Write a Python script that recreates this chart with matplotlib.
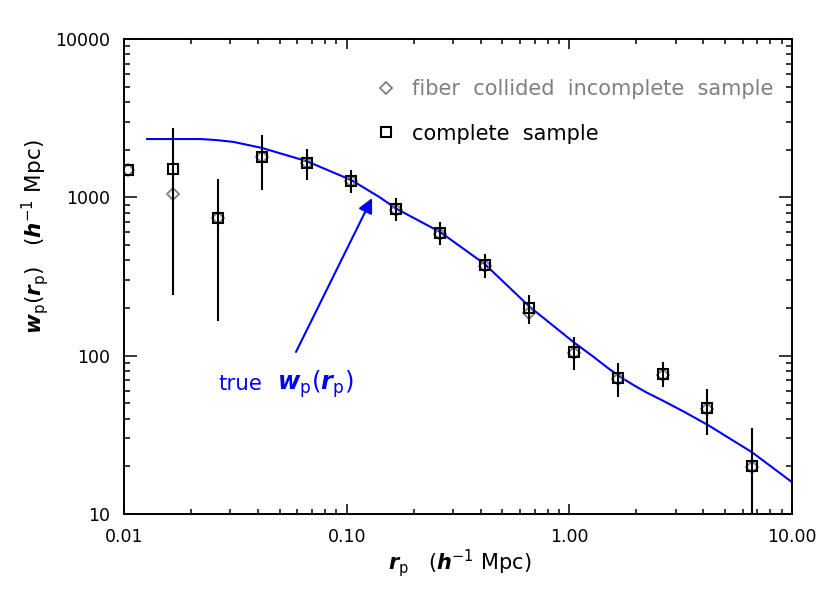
import matplotlib
matplotlib.use("Agg")
import matplotlib.pyplot as plt
from matplotlib.ticker import FuncFormatter, LogLocator
import numpy as np

# projected separation bins (h^-1 Mpc)
rp = [0.01047, 0.0166, 0.0263, 0.0417, 0.0661, 0.1047, 0.166, 0.263,
      0.417, 0.661, 1.047, 1.66, 2.63, 4.17, 6.61]

# complete sample and its error range
wp_complete = [1490, 1510, 741, 1800, 1650, 1270, 844, 595, 374, 200, 105, 72, 76.5, 46.7, 20.1]
wp_low = [1490, 241, 166, 1111, 1285, 1065, 708, 500, 309, 158, 81, 54.8, 63.4, 31.5, 5]
wp_high = [1490, 2740, 1306, 2477, 2018, 1489, 991, 698, 438, 241, 131, 90, 91, 61.5, 34.9]

# fiber collided incomplete sample
wp_fiber = [1480, 1050, 740, 1800, 1650, 1260, 835, 588, 370, 186, 104, 71, 75.5, 46, 19.8]

# true w_p(r_p) curve
true_rp = [0.0127, 0.022, 0.026, 0.031, 0.0417, 0.066, 0.105, 0.141, 0.166, 0.263, 0.417,
           0.665, 1.059, 1.276, 1.5, 1.72, 1.95, 2.2, 2.63, 3.3, 4.19, 6.6, 10.0]
true_wp = [2335, 2335, 2300, 2240, 2050, 1694, 1285, 1000, 852, 604, 379,
           203, 120, 99, 83, 72.5, 65, 59, 52, 44, 36.5, 24.6, 15.9]

plt.rcParams['font.family'] = 'DejaVu Sans'
plt.rcParams['mathtext.fontset'] = 'dejavusans'

fig = plt.figure(figsize=(8.3, 5.93), dpi=100)
ax = fig.add_axes([0.1494, 0.1332, 0.8048, 0.801])

ax.plot(true_rp, true_wp, color='blue', lw=1.5, zorder=2)

rp_a = np.array(rp)
wc = np.array(wp_complete)
yerr = [wc - np.array(wp_low), np.array(wp_high) - wc]
ax.errorbar(rp_a, wc, yerr=yerr, fmt='none', ecolor='black', elinewidth=1.5, capsize=0, zorder=3)

ax.plot(rp, wp_fiber, linestyle='none', marker='D', ms=6, mfc='none', mec='gray', mew=1.3,
        zorder=2.5, label='fiber  collided  incomplete  sample')
ax.plot(rp, wp_complete, linestyle='none', marker='s', ms=6.5, mfc='none', mec='black', mew=1.5,
        zorder=4, label='complete  sample')

ax.set_xscale('log')
ax.set_yscale('log')
ax.set_xlim(0.01, 10)
ax.set_ylim(10, 10000)

ax.xaxis.set_major_formatter(FuncFormatter(lambda v, _: f"{v:.2f}"))
ax.yaxis.set_major_formatter(FuncFormatter(lambda v, _: f"{v:.0f}"))
ax.xaxis.set_minor_locator(LogLocator(base=10, subs=np.arange(2, 10)))
ax.yaxis.set_minor_locator(LogLocator(base=10, subs=np.arange(2, 10)))

ax.tick_params(which='both', direction='in', top=True, right=True, width=1.1, labelsize=12.5)
ax.tick_params(axis='x', which='major', length=7, pad=10)
ax.tick_params(axis='x', which='minor', length=3.5)
ax.tick_params(axis='y', which='major', length=9.5, pad=10)
ax.tick_params(axis='y', which='minor', length=4.5)
for sp in ax.spines.values():
    sp.set_linewidth(1.4)

leg = ax.legend(loc='upper left', bbox_to_anchor=(0.377, 0.915), frameon=False,
                borderpad=0, borderaxespad=0, handlelength=1.0, handletextpad=0.75,
                labelspacing=1.16, fontsize=15, labelcolor=['gray', 'black'])

ax.annotate('', xy=(0.130, 990), xytext=(0.0592, 105.5),
            arrowprops=dict(arrowstyle='-|>', color='blue', lw=1.5, mutation_scale=22,
                            shrinkA=0, shrinkB=0))
ax.text(0.0264, 61, 'true', color='blue', fontsize=15.4, va='baseline', ha='left')
ax.text(0.0486, 61, r'$\mathbfit{w}_{\mathrm{p}}(\mathbfit{r}_{\mathrm{p}})$',
        color='blue', fontsize=17.5, va='baseline', ha='left')

fig.text(0.554, 0.0506, r'$\mathbfit{r}_{\mathrm{p}}$   ($\mathbfit{h}^{-1}$ Mpc)',
         fontsize=15, ha='center', va='center')
fig.text(0.042, 0.600, r'$\mathbfit{w}_{\mathrm{p}}(\mathbfit{r}_{\mathrm{p}})$   ($\mathbfit{h}^{-1}$ Mpc)',
         fontsize=15.5, ha='center', va='center', rotation=90)

fig.savefig('out.png', dpi=100)
